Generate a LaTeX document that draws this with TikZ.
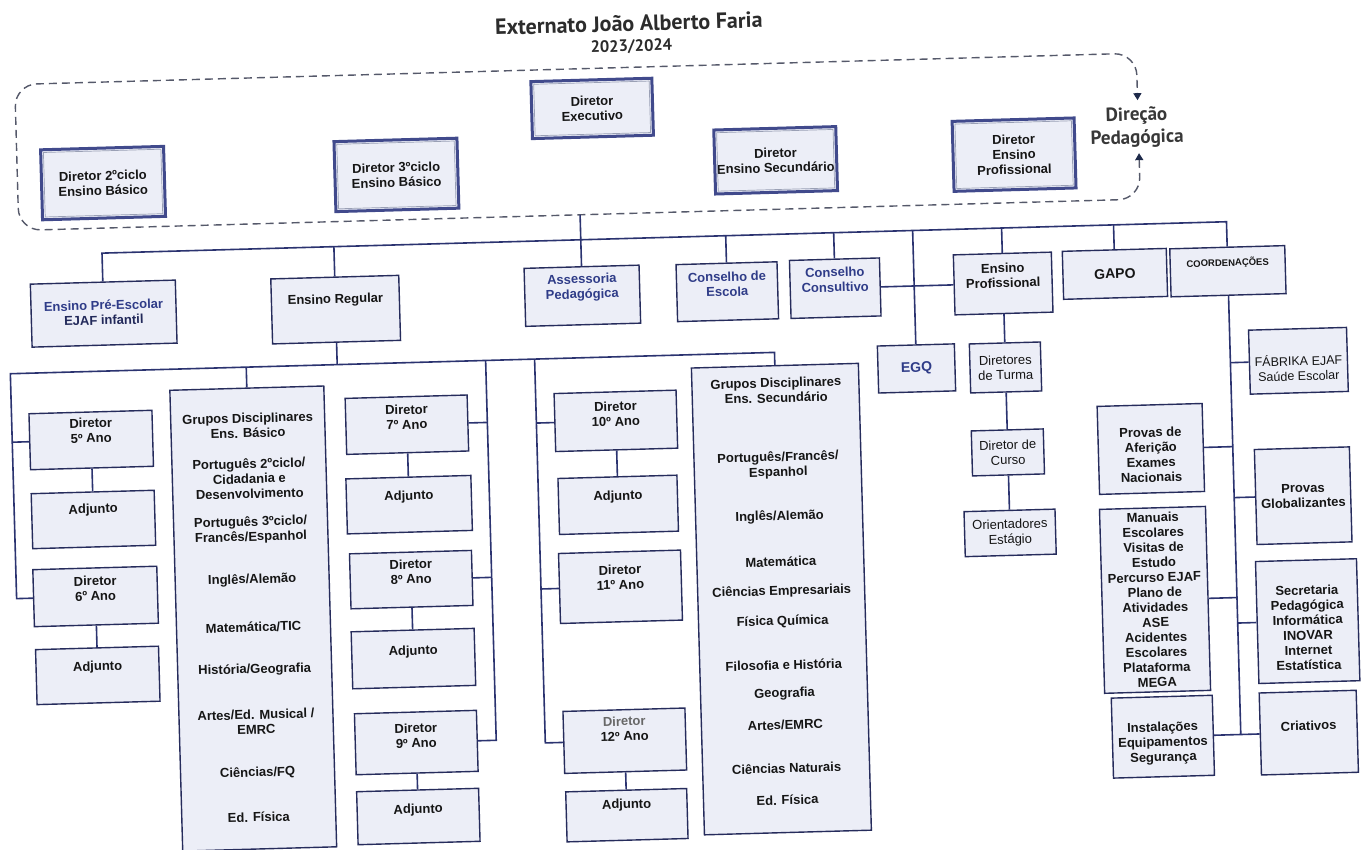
\documentclass[tikz,border=0pt]{standalone}
\usepackage{fontspec}
\setmainfont{Liberation Sans}
\newfontfamily\ptsans{PT Sans}
\usetikzlibrary{arrows.meta}
\definecolor{navy}{HTML}{2B3370}
\definecolor{bord}{HTML}{262C5C}
\definecolor{boxfill}{HTML}{ECEEF7}
\definecolor{topnavy}{HTML}{414A8C}
\definecolor{innergray}{HTML}{9AA0B5}
\definecolor{txtnavy}{HTML}{2F3C88}
\definecolor{dashc}{HTML}{55596A}
\definecolor{arrowc}{HTML}{1E2A4A}
\definecolor{ink}{HTML}{151515}
\newcommand\bxf{\bfseries\fontsize{13}{15}\selectfont}
\newcommand\mdf{\fontsize{13}{15}\selectfont}
\newcommand\mkbox[8]{%
  \node[box,minimum width=#4pt,minimum height=#5pt] (#1) at (#2,#3) {};
  \node[t,#8] (#1-t) at (#2,#3-#6) {#7};}
\newcommand\mktop[6]{%
  \node[topbox,minimum width=#4pt,minimum height=#5pt] (#1) at (#2,#3) {#6};
  \node[innerframe,minimum width=#4pt-5.5pt,minimum height=#5pt-5.5pt] (#1-in) at (#2,#3) {};}
\begin{document}
\begin{tikzpicture}[x=1pt,y=-1pt,
  box/.style={draw=bord,line width=1.4pt,fill=boxfill,rectangle,inner sep=0pt},
  topbox/.style={draw=topnavy,line width=3pt,fill=boxfill,rectangle,inner sep=0pt,align=center,font=\bxf,text=ink},
  innerframe/.style={draw=innergray,line width=0.7pt,rectangle,inner sep=0pt},
  t/.style={font=\bxf,align=center,text=ink,inner sep=0pt},
  conn/.style={draw=navy,line width=1.6pt},
  dashbox/.style={draw=dashc,line width=1.4pt,dash pattern=on 8pt off 5pt,rounded corners=22pt},
]
\fill[white] (0,0) rectangle (1365,850);
\useasboundingbox (0,0) rectangle (1365,850);
\begin{scope}[rotate around={1.6:(682.5,425)},transform shape]
% title
\node[font=\ptsans\bfseries\fontsize{22}{26}\selectfont,text=ink!90,inner sep=0pt] (title) at (640,22) {Externato João Alberto Faria};
\node[font=\ptsans\bfseries\fontsize{16.5}{20}\selectfont,text=ink!90,inner sep=0pt] (year) at (642,45.5) {2023/2024};
% direction frame
\node[font=\ptsans\bfseries\fontsize{19}{23}\selectfont,align=center,text=ink!85] (dirped) at (1145,140) {Direção\\Pedagógica};
\coordinate (dpA) at (1146.5,113);
\coordinate (dpB) at (1146.5,166);
\draw[dashbox,{Triangle[width=8pt,length=7pt,color=arrowc,fill=arrowc]}-{Triangle[width=8pt,length=7pt,color=arrowc,fill=arrowc]}]
  (dpB) -- (1146.5,212) -- (24.5,212) -- (24.5,66) -- (1146.5,66) -- (dpA);
% top boxes
\mktop{exec}{601}{106}{121}{57}{Diretor\\Executivo}
\mktop{dir2}{110}{167}{123}{70}{Diretor 2ºciclo\\Ensino Básico}
\mktop{dir3}{403.5}{167}{123}{70}{Diretor 3ºciclo\\Ensino Básico}
\mktop{dirsec}{783}{163}{122}{64}{Diretor\\Ensino Secundário}
\mktop{dirprof}{1021.5}{164}{122}{70}{Diretor\\Ensino\\Profissional}
% first level
\mkbox{pre}{107}{297.5}{145}{63}{1}{Ensino Pré-Escolar\\{\color{navy!80!black}EJAF infantil}}{text=txtnavy}
\mkbox{reg}{339}{300}{128}{65}{9.5}{Ensino Regular}{}
\mkbox{assess}{586}{293}{115}{58}{8}{Assessoria\\Pedagógica}{text=txtnavy}
\mkbox{cons}{731}{293}{101}{57}{7.5}{Conselho de\\Escola}{text=txtnavy}
\mkbox{consult}{839}{292.5}{90}{58}{8.5}{Conselho\\Consultivo}{text=txtnavy}
\mkbox{ensprof}{1007}{292.5}{98}{60}{8}{Ensino\\Profissional}{}
\mkbox{gapo}{1119}{286}{104}{48}{0}{GAPO}{font=\bfseries\fontsize{14}{16}\selectfont}
\mkbox{coord}{1232}{286.5}{115}{48}{8.3}{COORDENAÇÕES}{font=\bfseries\fontsize{9.5}{11}\selectfont}
% professional branch
\mkbox{egq}{918}{375}{77}{47}{0}{EGQ}{text=txtnavy,font=\bfseries\fontsize{14}{16}\selectfont}
\mkbox{dturma}{1007}{376.5}{71}{49}{0}{Diretores\\de Turma}{font=\mdf}
\mkbox{dcurso}{1007}{461.5}{72}{45}{0}{Diretor de\\Curso}{font=\mdf}
\mkbox{orient}{1007}{542}{91}{45}{0}{Orientadores\\Estágio}{font=\mdf}
% coordination branch
\mkbox{fab}{1300}{378}{98}{64}{-7}{FÁBRIKA EJAF\\Saúde Escolar}{font=\fontsize{12.5}{15}\selectfont}
\mkbox{afer}{1150}{462}{105}{88}{-6}{Provas de\\Aferição\\Exames\\Nacionais}{}
\mkbox{glob}{1301}{513}{95}{95}{0}{Provas\\Globalizantes}{}
\mkbox{manuais}{1150}{613}{106}{184}{0}{Manuais\\Escolares\\Visitas de\\Estudo\\Percurso EJAF\\Plano de\\Atividades\\ASE\\Acidentes\\Escolares\\Plataforma\\MEGA}{}
\mkbox{secr}{1302}{638.5}{101}{122}{-6.5}{Secretaria\\Pedagógica\\Informática\\INOVAR\\Internet\\Estatística}{}
\mkbox{inst}{1154}{750}{101}{80}{-6.5}{Instalações\\Equipamentos\\Segurança}{}
\mkbox{criat}{1300}{750}{97}{82}{7}{Criativos}{}
% ensino regular branch
\mkbox{d5}{91}{423.5}{123}{56}{9.5}{Diretor\\5º Ano}{}
\mkbox{a5}{91}{503}{123}{55}{9.5}{Adjunto}{}
\mkbox{d6}{91}{580}{124}{57}{8}{Diretor\\6º Ano}{}
\mkbox{a6}{91}{659}{123}{55}{8}{Adjunto}{}
\mkbox{d7}{407}{417}{122}{56}{7.5}{Diretor\\7º Ano}{}
\mkbox{a7}{407}{497}{125}{55}{8}{Adjunto}{}
\mkbox{d8}{407}{572}{122}{55}{8}{Diretor\\8º Ano}{}
\mkbox{a8}{407}{651}{123}{57}{7}{Adjunto}{}
\mkbox{d9}{407.5}{735}{122}{61}{7}{Diretor\\9º Ano}{}
\mkbox{a9}{407.5}{809}{122}{53}{6.5}{Adjunto}{}
\mkbox{d10}{616}{419}{122}{58}{7}{Diretor\\10º Ano}{}
\mkbox{a10}{616}{503}{119}{56}{8}{Adjunto}{}
\mkbox{d11}{616}{585}{122}{70}{9.5}{Diretor\\11º Ano}{}
\mkbox{d12}{616}{739}{122}{62}{12}{{\color{ink!65}Diretor}\\12º Ano}{}
\mkbox{a12}{616}{813.5}{121}{50}{10}{Adjunto}{}
% disciplinary groups
\node[box,minimum width=154pt,minimum height=461pt] (gb) at (248,606.5) {};
\node[t] (gb1) at (248,413.5) {Grupos Disciplinares\\Ens. Básico};
\node[t] (gb2) at (248,466.5) {Português 2ºciclo/\\Cidadania e\\Desenvolvimento};
\node[t] (gb3) at (248,518) {Português 3ºciclo/\\Francês/Espanhol};
\node[t] (gb4) at (248,568) {Inglês/Alemão};
\node[t] (gb5) at (248,615) {Matemática/TIC};
\node[t] (gb6) at (248,658) {História/Geografia};
\node[t] (gb7) at (248,710) {Artes/Ed. Musical /\\EMRC};
\node[t] (gb8) at (248,761) {Ciências/FQ};
\node[t] (gb9) at (248,805) {Ed. Física};
\node[box,minimum width=167pt,minimum height=467pt] (gs) at (776.5,601.8) {};
\node[t] (gs1) at (777,393) {Grupos Disciplinares\\Ens. Secundário};
\node[t] (gs2) at (777,468) {Português/Francês/\\Espanhol};
\node[t] (gs3) at (777,519.4) {Inglês/Alemão};
\node[t] (gs4) at (777,564.4) {Matemática};
\node[t] (gs5) at (777,594.4) {Ciências Empresariais};
\node[t] (gs6) at (777,624.4) {Física Química};
\node[t] (gs7) at (777,667.7) {Filosofia e História};
\node[t] (gs8) at (777,696.7) {Geografia};
\node[t] (gs9) at (777,727.7) {Artes/EMRC};
\node[t] (gs10) at (777,771) {Ciências Naturais};
\node[t] (gs11) at (777,802.7) {Ed. Física};
% junction coordinates
\coordinate (dashb) at (586,212);
\coordinate (busL) at (107,237);
\coordinate (busR) at (1232,237);
\coordinate (j-reg) at (339,237);
\coordinate (j-cons) at (731,237);
\coordinate (j-consult) at (839,237);
\coordinate (j-egq) at (918,237);
\coordinate (j-ensprof) at (1007,237);
\coordinate (j-gapo) at (1119,237);
\coordinate (cbot) at (1232,750);
\coordinate (j-fab) at (1232,378);
\coordinate (j-afer) at (1232,462);
\coordinate (j-glob) at (1232,513);
\coordinate (j-manuais) at (1232,613);
\coordinate (j-secr) at (1232,638.5);
\coordinate (sbL) at (12,355);
\coordinate (sbR) at (776.5,355);
\coordinate (j-reg2) at (339,355);
\coordinate (j-gb) at (248,355);
\coordinate (j-d5) at (12,423.5);
\coordinate (j-d6) at (12,580);
\coordinate (v1) at (487.5,355);
\coordinate (j-d7) at (487.5,417);
\coordinate (j-d8) at (487.5,572);
\coordinate (j-d9) at (487.5,735);
\coordinate (v2) at (536.5,355);
\coordinate (j-d10) at (536.5,419);
\coordinate (j-d11) at (536.5,585);
\coordinate (j-d12) at (536.5,739);
% connectors
\draw[conn] (dashb) -- (assess.north);
\draw[conn] (pre.north) -- (busL) -- (busR) -- (coord.north);
\foreach \n in {reg,cons,consult,egq,ensprof,gapo} \draw[conn] (\n.north) -- (j-\n);
\draw[conn] (consult.east) -- (ensprof.west);
\draw[conn] (ensprof.south) -- (dturma.north);
\draw[conn] (dturma.south) -- (dcurso.north);
\draw[conn] (dcurso.south) -- (orient.north);
\draw[conn] (coord.south) -- (cbot);
\foreach \n in {fab,glob,secr} \draw[conn] (\n.west) -- (j-\n);
\foreach \n in {afer,manuais} \draw[conn] (\n.east) -- (j-\n);
\draw[conn] (inst.east) -- (cbot) -- (criat.west);
\draw[conn] (reg.south) -- (j-reg2);
\draw[conn] (gs.north) -- (sbR) -- (sbL) -- (j-d6) -- (d6.west);
\draw[conn] (d5.west) -- (j-d5);
\draw[conn] (gb.north) -- (j-gb);
\draw[conn] (v1) -- (j-d9) -- (d9.east);
\draw[conn] (d7.east) -- (j-d7);
\draw[conn] (d8.east) -- (j-d8);
\draw[conn] (v2) -- (j-d12) -- (d12.west);
\draw[conn] (d10.west) -- (j-d10);
\draw[conn] (d11.west) -- (j-d11);
\foreach \a/\b in {d5/a5,d6/a6,d7/a7,d8/a8,d9/a9,d10/a10,d12/a12} \draw[conn] (\a.south) -- (\b.north);
\end{scope}
\end{tikzpicture}
\end{document}
